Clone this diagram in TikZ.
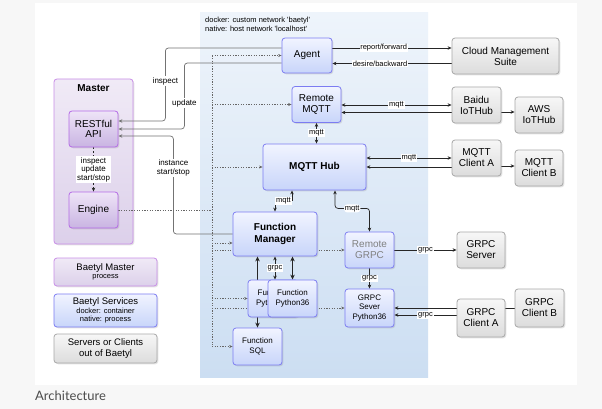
\documentclass[tikz,border=0pt]{standalone}
\usepackage{fontspec}
\setmainfont{Liberation Sans}
\newfontfamily\capfont{Lato}
\usetikzlibrary{arrows.meta,shadows}

\pgfdeclarelayer{back}
\pgfdeclarelayer{lines}
\pgfsetlayers{back,lines,main}

\definecolor{svcline}{HTML}{7C7CF2}
\definecolor{svctop}{HTML}{F1F4FF}
\definecolor{svcbot}{HTML}{C8D5FA}
\definecolor{srvline}{HTML}{A8A8A8}
\definecolor{srvtop}{HTML}{F7F7F7}
\definecolor{srvbot}{HTML}{DCDCDC}
\definecolor{mstline}{HTML}{C98EE8}
\definecolor{msttop}{HTML}{F0EAF6}
\definecolor{mstbot}{HTML}{DCD0EA}
\definecolor{inline}{HTML}{B56BE6}
\definecolor{intop}{HTML}{EEE4F7}
\definecolor{inbot}{HTML}{C9B4E2}
\definecolor{regtop}{HTML}{EEF4FB}
\definecolor{regbot}{HTML}{CCDEF2}

\newcommand\sq{\textquotesingle}
\newcommand\fs[1]{\fontsize{#1}{#1pt}\selectfont}

\begin{document}
\begin{tikzpicture}[x=1pt,y=-1pt,
    box/.style={rounded corners=3pt,align=center,inner sep=1pt,line width=0.8pt,
      drop shadow={shadow xshift=1.3pt,shadow yshift=-1.3pt,opacity=0.22}},
    svc/.style={box,draw=svcline,top color=svctop,bottom color=svcbot,font=\fs{10}},
    srv/.style={box,draw=srvline,top color=srvtop,bottom color=srvbot,font=\fs{10}},
    mst/.style={box,draw=mstline,top color=msttop,bottom color=mstbot,font=\fs{9.5}},
    inbox/.style={box,draw=inline,top color=intop,bottom color=inbot,font=\fs{10}},
    lbl/.style={fill=white,inner sep=0.8pt,font=\fs{7.5}},
    conn/.style={draw=black!85,line width=0.7pt,>={Stealth[length=4pt,width=3.5pt]}},
    thickconn/.style={conn,line width=1.3pt,>={Stealth[length=5pt,width=4.5pt]}},
    apiline/.style={draw=black!55,line width=0.7pt,rounded corners=3pt,>={Stealth[length=4pt,width=3.5pt]}},
    launch/.style={draw=black!60,line width=0.6pt,dash pattern=on 1.2pt off 1.4pt,>={Stealth[length=3.5pt,width=3pt]}}]
  \useasboundingbox (0,0) rectangle (602,409);

  % page, panel, docker area and master
  \begin{pgfonlayer}{back}
    \fill[black!3] (0,0) rectangle (602,409);
    \fill[white] (35,3) rectangle (577,385);
    \shade[top color=regtop,bottom color=regbot] (200,13) rectangle (428,377);
    \node[mst,minimum width=79pt,minimum height=165pt] (master) at (93.5,161.5) {};
    \node[font=\bfseries\fs{10}] (mastertitle) at (93.5,88) {Master};
  \end{pgfonlayer}
  \node[anchor=north west,align=left,inner sep=0pt,font=\fontsize{7.5}{9}\selectfont] (netnote) at (205,16.5)
    {docker: custom network \sq baetyl\sq\\native: host network \sq localhost\sq};
  \node[anchor=west,inner sep=0pt,text=black!70,font=\capfont\fs{13}] (caption) at (35,396) {Architecture};

  \node[inbox,minimum width=49pt,minimum height=36pt] (api) at (93.5,129) {RESTful\\API};
  \node[inbox,minimum width=49pt,minimum height=36pt] (engine) at (93.5,210) {Engine};

  % legend
  \node[mst,minimum width=103pt,minimum height=28pt] (legmaster) at (105.5,272)
    {Baetyl Master\\[-1pt]{\fs{7.5}process}};
  \node[svc,font=\fs{9.5},minimum width=103pt,minimum height=33pt] (legsvc) at (105.5,310.5)
    {Baetyl Services\\[-1pt]{\fs{7.5}docker: container}\\[-1.5pt]{\fs{7.5}native: process}};
  \node[srv,font=\fontsize{9.5}{11}\selectfont,minimum width=103pt,minimum height=29pt] (legsrv) at (105.5,348.5)
    {Servers or Clients\\out of Baetyl};

  % services
  \node[svc,minimum width=50pt,minimum height=35pt] (agent) at (307,55.5) {Agent};
  \node[svc,font=\fontsize{10}{11}\selectfont,minimum width=49pt,minimum height=36pt] (rmqtt) at (316.5,104.5) {Remote\\MQTT};
  \node[svc,font=\bfseries\fs{10},minimum width=103pt,minimum height=46pt] (hub) at (314.5,167) {MQTT Hub};
  \node[svc,font=\bfseries\fontsize{10}{11.5}\selectfont,minimum width=84pt,minimum height=44pt] (fm) at (275,234) {Function\\Manager};
  \node[svc,text=black!50,font=\fontsize{10}{11}\selectfont,minimum width=49pt,minimum height=36pt] (rgrpc) at (369.5,250) {Remote\\GRPC};
  \node[svc,font=\fontsize{8}{9.5}\selectfont,minimum width=49pt,minimum height=38pt] (gsever) at (369.5,308) {GRPC\\Sever\\Python36};
  \node[svc,font=\fontsize{8}{9.5}\selectfont,minimum width=50pt,minimum height=37pt] (fpy) at (273,298.5) {Function\\Python27};
  \node[svc,font=\fontsize{8}{9.5}\selectfont,minimum width=49pt,minimum height=37pt] (fpy36) at (292.5,298.5) {Function\\Python36};
  \node[svc,font=\fontsize{8}{9.5}\selectfont,minimum width=49pt,minimum height=37pt] (fsql) at (257.5,346.5) {Function\\SQL};

  % outside
  \node[srv,font=\fontsize{10}{11}\selectfont,minimum width=107pt,minimum height=36pt] (cms) at (505.5,56) {Cloud Management\\Suite};
  \node[srv,font=\fontsize{10}{11}\selectfont,minimum width=49pt,minimum height=36pt] (baidu) at (476.5,105) {Baidu\\IoTHub};
  \node[srv,font=\fontsize{10}{11}\selectfont,minimum width=48pt,minimum height=36pt] (aws) at (539,115) {AWS\\IoTHub};
  \node[srv,font=\fontsize{10}{11}\selectfont,minimum width=49pt,minimum height=36pt] (mca) at (476.5,158) {MQTT\\Client A};
  \node[srv,font=\fontsize{10}{11}\selectfont,minimum width=48pt,minimum height=36pt] (mcb) at (539,168) {MQTT\\Client B};
  \node[srv,font=\fontsize{10}{11}\selectfont,minimum width=48pt,minimum height=36pt] (gserver) at (481,250) {GRPC\\Server};
  \node[srv,font=\fontsize{10}{11}\selectfont,minimum width=48pt,minimum height=38pt] (gca) at (481,318) {GRPC\\Client A};
  \node[srv,font=\fontsize{10}{11}\selectfont,minimum width=49pt,minimum height=38pt] (gcb) at (539.5,308) {GRPC\\Client B};

  \coordinate (ttop) at (212,55.5);
  \coordinate (tbot) at (212,346.5);

  \begin{pgfonlayer}{lines}
    % master inside
    \draw[conn,dash pattern=on 2pt off 2pt,->] (api) -- (engine)
      node[lbl,midway,align=center,font=\fontsize{8}{8.5}\selectfont] {inspect\\update\\start/stop};
    % master api
    \draw[apiline,->] ([yshift=7.5pt]agent.west) -| ([xshift=47pt,yshift=8pt]api.east) -- ([yshift=8pt]api.east);
    \path ([xshift=47pt,yshift=48pt]api.east) node[lbl,font=\fs{8}] (inslbl) {inspect};
    \draw[apiline,->] ([yshift=-7.5pt]agent.west) -| ([xshift=66pt]api.east) -- (api.east);
    \path ([xshift=66pt,yshift=26pt]api.east) node[lbl,font=\fs{8}] (updlbl) {update};
    \draw[apiline,->] (fm.west) -| ([xshift=55pt,yshift=-7pt]api.east) -- ([yshift=-7pt]api.east);
    \path ([xshift=55pt,yshift=-39pt]api.east) node[lbl,align=center,font=\fontsize{8}{9}\selectfont] (stslbl) {instance\\start/stop};
    % engine launches
    \draw[launch] (engine.east) -- (engine.east -| ttop);
    \draw[launch] (ttop) -- (tbot);
    \draw[launch,->] (ttop) -- (agent.west);
    \draw[launch,->] (ttop |- rmqtt.west) -- (rmqtt.west);
    \draw[launch,->] (ttop |- hub.west) -- (hub.west);
    \draw[launch,->] ([yshift=-9pt]fm.west -| ttop) -- ([yshift=-9pt]fm.west);
    \draw[launch,->] (ttop |- rgrpc.west) -- (rgrpc.west);
    \draw[launch,->] (ttop |- fpy.west) -- (fpy.west);
    \draw[launch,->] (ttop |- gsever.west) -- (gsever.west);
    \draw[launch,->] (tbot) -- (fsql.west);
    % cloud
    \draw[conn,->] ([yshift=7.5pt]agent.east) -- ([yshift=7.5pt]agent.east -| cms.west)
      node[lbl,pos=0.43] {report/forward};
    \draw[conn,->] ([yshift=-7.5pt]cms.west) -- ([yshift=-7.5pt]cms.west -| agent.east)
      node[lbl,pos=0.6] {desire/backward};
    % mqtt
    \draw[conn,<->] (baidu.west) -- (baidu.west -| rmqtt.east) node[lbl,midway] {mqtt};
    \draw[conn,->] ([yshift=-7.5pt]baidu.west) -- ([yshift=-7.5pt]baidu.west -| rmqtt.east);
    \draw[conn,->] ([yshift=-7pt]baidu.east) -- ([yshift=-7pt]baidu.east -| aws.west);
    \draw[conn,<->] (mca.west) -- (mca.west -| hub.east) node[lbl,midway] {mqtt};
    \draw[conn,->] (hub.east -| mca.west) -- (hub.east);
    \draw[conn,->] ([yshift=-8pt]mca.east) -- ([yshift=-8pt]mca.east -| mcb.west);
    \draw[conn,<->] (rmqtt.south) -- (rmqtt.south |- hub.north) node[lbl,midway] {mqtt};
    \draw[conn,<->] (fm.north) -- ++(0,-11) -| ([xshift=-22.5pt]hub.south) node[lbl,pos=0.25] {mqtt};
    \draw[conn,<->,rounded corners=3pt] ([xshift=20.5pt]hub.south) -- ++(0,18) -| (rgrpc.north) node[lbl,pos=0.25] {mqtt};
    % grpc
    \draw[conn,->] (rgrpc.east) -- (gserver.west) node[lbl,midway] {grpc};
    \draw[conn,->] (rgrpc.south) -- (gsever.north) node[lbl,midway] {grpc};
    \draw[conn,->] (gsever.east -| gca.west) -- (gsever.east);
    \draw[conn,->] ([yshift=-7pt]gsever.east -| gca.west) -- ([yshift=-7pt]gsever.east) node[lbl,midway] {grpc};
    \draw[conn] (gcb.west) -- (gcb.west -| gca.east);
    % functions
    \draw[thickconn,<->] (fsql.north |- fm.south) -- (fsql.north);
    \draw[conn,<->] (fm.south) -- (fm.south |- fpy36.north) node[lbl,midway] {grpc};
    \draw[thickconn,<->] (fpy36.north |- fm.south) -- (fpy36.north);
  \end{pgfonlayer}
\end{tikzpicture}
\end{document}
